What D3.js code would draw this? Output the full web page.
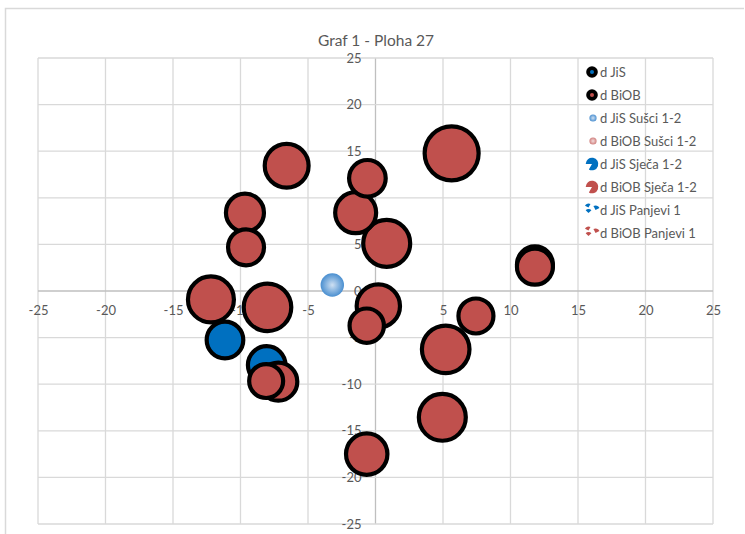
<!DOCTYPE html>
<html>
<head>
<meta charset="utf-8">
<script src="https://cdn.jsdelivr.net/npm/d3@7"></script>
<style>
  body { margin: 0; background: #fff; }
  text { font-family: Lato, "Open Sans", sans-serif; }
</style>
</head>
<body>
<div id="chart"></div>
<script>
// series (x, y, bubble size)
var jis_x = [-11.15, -8.06, 11.81];
var jis_y = [-5.26, -7.94, 2.85];
var jis_size = [11.5, 12.1, 11.1];

var biob_x = [-6.58, -9.67, -9.59, -12.19, -8.0, -7.2, -8.1, -0.6, -1.47, 0.83, 0.21, -0.65, -0.65, 5.64, 11.81, 7.44, 5.2, 4.95];
var biob_y = [13.44, 8.4, 4.69, -0.9, -1.75, -9.73, -9.66, 12.09, 8.4, 5.11, -1.61, -3.72, -17.5, 14.77, 2.61, -2.68, -6.26, -13.55];
var biob_size = [16.5, 12.4, 11.1, 18.1, 19.4, 12.4, 9.9, 11.5, 14.4, 18.9, 16.1, 10.1, 14.7, 25, 11.1, 10.5, 19.4, 18.9];

var susci_jis_x = [-3.2];
var susci_jis_y = [0.64];
var susci_jis_size = [4.7];

var tick_values = [-25, -20, -15, -10, -5, 0, 5, 10, 15, 20, 25];
var legend_labels = ['d JiS', 'd BiOB', 'd JiS Sušci 1-2', 'd BiOB Sušci 1-2', 'd JiS Sječa 1-2', 'd BiOB Sječa 1-2', 'd JiS Panjevi 1', 'd BiOB Panjevi 1'];

var chart_width = 745;
var chart_height = 534;
var blue = '#0070c0';
var red = '#c0504d';
var grey_text = '#595959';

var svg = d3
  .select('#chart')
  .append('svg')
  .attr('width', chart_width)
  .attr('height', chart_height);

// gradients for the "Sušci" bubbles
var defs = svg.append('defs');
var g1 = defs.append('radialGradient').attr('id', 'grad_jis');
g1.append('stop').attr('offset', '0%').attr('stop-color', '#cfe0f2');
g1.append('stop').attr('offset', '100%').attr('stop-color', '#4a8fd0');
var g2 = defs.append('radialGradient').attr('id', 'grad_biob');
g2.append('stop').attr('offset', '0%').attr('stop-color', '#f3dcdc');
g2.append('stop').attr('offset', '100%').attr('stop-color', '#d07f7d');

// chart frame
svg.append('path')
  .attr('d', 'M5.5,540 L5.5,8.5 L744,8.5')
  .attr('fill', 'none')
  .attr('stroke', '#d9d9d9')
  .attr('stroke-width', 1.5);

//scales
var x_scale = d3.scaleLinear().domain([-25, 25]).range([38, 713]);
var y_scale = d3.scaleLinear().domain([-25, 25]).range([524, 58]);
var r_scale = d3.scaleSqrt().domain([0, 25]).range([0, 27]);

// gridlines
svg.append('g')
  .selectAll('line')
  .data(tick_values)
  .enter()
  .append('line')
  .attr('x1', function(d) { return x_scale(d); })
  .attr('x2', function(d) { return x_scale(d); })
  .attr('y1', y_scale(25))
  .attr('y2', y_scale(-25))
  .attr('stroke', function(d) { return d === 0 ? '#bfbfbf' : '#d9d9d9'; })
  .attr('stroke-width', 1.3);

svg.append('g')
  .selectAll('line')
  .data(tick_values)
  .enter()
  .append('line')
  .attr('y1', function(d) { return y_scale(d); })
  .attr('y2', function(d) { return y_scale(d); })
  .attr('x1', x_scale(-25))
  .attr('x2', x_scale(25))
  .attr('stroke', function(d) { return d === 0 ? '#bfbfbf' : '#d9d9d9'; })
  .attr('stroke-width', 1.3);

// axes (labels only), plain hyphen for negatives like the original
var fmt = function(d) { return String(d); };
var x_axis = d3.axisBottom(x_scale).tickValues(tick_values).tickFormat(fmt).tickSize(0).tickPadding(15);
var gx = svg.append('g')
  .attr('transform', 'translate(0,' + y_scale(0) + ')')
  .call(x_axis);
var y_axis = d3.axisLeft(y_scale).tickValues(tick_values).tickFormat(fmt).tickSize(0).tickPadding(14);
var gy = svg.append('g')
  .attr('transform', 'translate(' + x_scale(0) + ',0)')
  .call(y_axis);
[gx, gy].forEach(function(g) {
  g.select('.domain').remove();
  g.selectAll('text')
    .attr('fill', grey_text)
    .style('font-size', '13px')
    .style('font-family', 'Lato, sans-serif');
});

// title
svg.append('text')
  .text('Graf 1 - Ploha 27')
  .attr('x', 376)
  .attr('y', 46)
  .attr('text-anchor', 'middle')
  .attr('font-size', 15.5)
  .attr('fill', grey_text);

// turn arrays into point lists, bigger bubbles drawn first
function points(xs, ys, ss) {
  return xs.map(function(d, i) {
    return { x: d, y: ys[i], s: ss[i] };
  }).sort(function(a, b) { return b.s - a.s; });
}

var bubbles = svg.append('g');

function drawSeries(data, fill, stroke) {
  bubbles.append('g')
    .selectAll('circle')
    .data(data)
    .enter()
    .append('circle')
    .attr('cx', function(d) { return x_scale(d.x); })
    .attr('cy', function(d) { return y_scale(d.y); })
    .attr('r', function(d) { return r_scale(d.s); })
    .attr('fill', fill)
    .attr('stroke', stroke)
    .attr('stroke-width', stroke === 'none' ? 0 : 4.2);
}

drawSeries(points(jis_x, jis_y, jis_size), blue, '#000');
drawSeries(points(susci_jis_x, susci_jis_y, susci_jis_size), 'url(#grad_jis)', 'none');
drawSeries(points(biob_x, biob_y, biob_size), red, '#000');

// legend
var legend = svg.append('g');
var leg_y = d3.scaleLinear().domain([0, 7]).range([72, 233]);
var mx = 592;

legend_labels.forEach(function(label, i) {
  var cy = leg_y(i);
  var col = i % 2 === 0 ? blue : red;
  if (i < 2) {
    legend.append('circle').attr('cx', mx).attr('cy', cy).attr('r', 5.8).attr('fill', '#000');
    legend.append('circle').attr('cx', mx).attr('cy', cy).attr('r', 2).attr('fill', col);
  } else if (i < 4) {
    legend.append('circle').attr('cx', mx + 1).attr('cy', cy).attr('r', 3.6)
      .attr('fill', i === 2 ? 'url(#grad_jis)' : 'url(#grad_biob)');
  } else if (i < 6) {
    legend.append('path')
      .attr('transform', 'translate(' + mx + ',' + cy + ')')
      .attr('d', d3.arc()({ innerRadius: 0, outerRadius: 6.3, startAngle: -Math.PI / 2, endAngle: Math.PI * 7 / 6 }))
      .attr('fill', col);
  } else {
    var a = d3.arc();
    [[-3.5, -2.5, 4, 5.2], [-3.5, 3, 4, 5.5], [3.5, 0, 4.4, 5.8]].forEach(function(p) {
      legend.append('path')
        .attr('transform', 'translate(' + (mx + p[0]) + ',' + (cy + p[1]) + ')')
        .attr('d', a({ innerRadius: 0, outerRadius: p[2], startAngle: p[3], endAngle: p[3] + 1.6 }))
        .attr('fill', col);
    });
  }
  legend.append('text')
    .text(label)
    .attr('x', 600)
    .attr('y', cy + 4.5)
    .attr('font-size', 13)
    .attr('fill', grey_text);
});
</script>
</body>
</html>
